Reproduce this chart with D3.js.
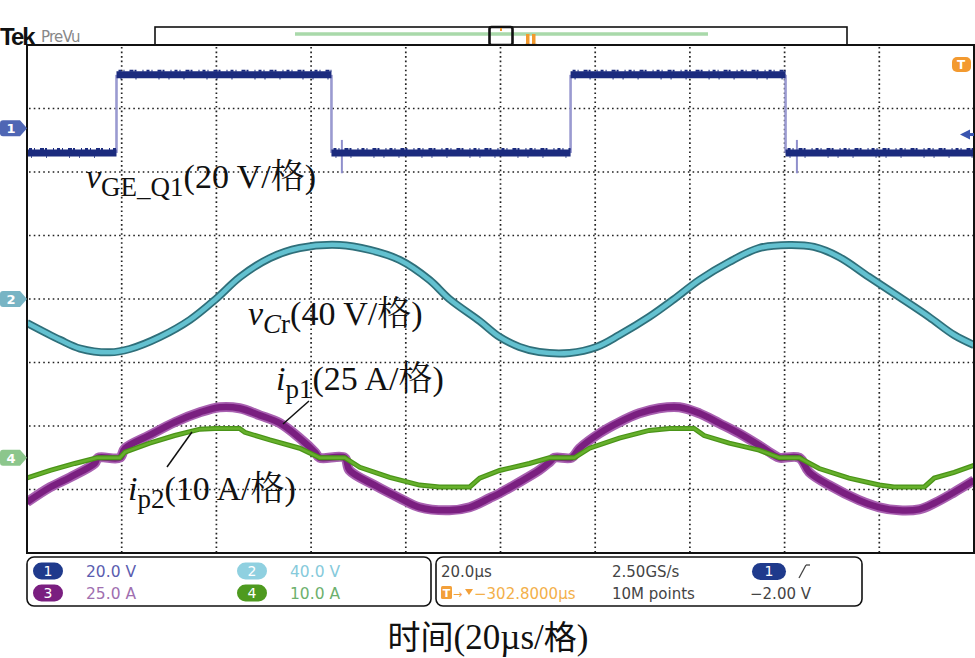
<!DOCTYPE html>
<html><head><meta charset="utf-8">
<script src="https://cdn.jsdelivr.net/npm/d3@7"></script>
<style>html,body{margin:0;padding:0;background:#fff;} svg{display:block}</style>
</head><body>
<svg id="c" width="975" height="658"></svg>
<script>
// ---------- DATA ----------
// time axis: 20 µs/div, 10 divisions
const timeDomain = [0, 200];
const divTicks = [1, 2, 3, 4, 5, 6, 7, 8, 9];          // vertical grid (x 20 µs)
const hTicks = [-3, -2, -1, 0, 1, 2, 3];                 // horizontal grid (divisions)

// channel settings: units per division and marker offset (divisions)
const chNames = ["1", "2", "3", "4"];
const chPerDiv = [20, 40, 25, 10];
const chOffset = [2.69, 0, -2.5, -2.5];

// CH1 v_GE_Q1 (V)
const vgeT = [0, 18.9, 18.9, 64.3, 64.3, 114.8, 114.8, 160.2, 160.2, 200];
const vgeV = [-7.8, -7.8, 16.8, 16.8, -7.8, -7.8, 16.8, 16.8, -7.8, -7.8];
const vgeSpikeT = [66.5, 162.6];
const vgeSpikeLo = [-14.2, -14.2];
const vgeSpikeHi = [-3.7, -3.7];

// CH2 v_Cr (V)
const vcrT = [0, 7.0, 11.2, 17.5, 21.7, 28.1, 34.4, 39.9, 45.0, 51.3, 57.6, 66.0, 72.4, 78.7, 85.0, 89.2, 95.6, 99.8, 104.0, 108.2, 114.6, 120.3, 125.1, 131.4, 136.7, 142.0, 148.3, 154.6, 161.0, 166.2, 171.5, 177.8, 184.2, 190.5, 195.8, 200];
const vcrV = [-15.1, -25.8, -31.2, -33.6, -31.5, -23.9, -13.2, 0, 13.9, 25.8, 32.1, 34.0, 30.9, 24.6, 12.0, 0, -13.9, -23.9, -30.2, -33.4, -34.0, -30.2, -22.7, -11.3, 0, 12.0, 23.3, 32.1, 34.0, 32.8, 26.5, 13.9, 1.3, -11.3, -22.7, -29.0];

// CH3 i_p1 (A)
const ip1T = [0, 4.9, 9.1, 14.3, 15.0, 19.6, 20.7, 25.9, 31.2, 36.5, 40.7, 44.9, 49.2, 53.4, 57.6, 60.8, 61.8, 67.1, 68.1, 73.4, 78.7, 82.9, 89.2, 93.5, 97.7, 99.8, 104.0, 108.2, 110.3, 111.4, 115.0, 116.7, 120.9, 125.1, 129.3, 133.5, 137.8, 142.0, 146.2, 150.4, 154.6, 157.8, 158.9, 163.1, 165.2, 169.4, 175.7, 180.0, 184.2, 188.4, 191.6, 195.8, 200];
const ip1A = [-17.5, -11.6, -7.7, -2.2, 0, 0, 3.7, 8.9, 14.0, 17.9, 19.9, 19.5, 16.7, 13.6, 7.7, 2.2, 0, 0, -4.9, -10.8, -15.9, -19.5, -20.7, -19.5, -15.9, -14.0, -9.6, -4.9, -1.8, 0, 0, 3.7, 9.6, 14.0, 17.5, 19.5, 19.9, 17.5, 13.6, 9.6, 4.9, 1.0, 0, 0, -5.7, -10.8, -16.7, -19.5, -20.7, -20.3, -17.9, -13.6, -8.9];

// CH4 i_p2 (A)
const ip2T = [0, 4.9, 10.1, 14.8, 19.6, 20.7, 25.9, 31.2, 36.5, 39.7, 44.9, 46.0, 51.3, 57.6, 61.8, 67.1, 70.3, 76.6, 82.9, 87.1, 93.5, 95.6, 99.8, 106.1, 110.3, 115.6, 118.8, 125.1, 131.4, 135.7, 140.9, 143.0, 148.3, 154.6, 158.9, 163.1, 167.3, 173.6, 180.0, 183.1, 189.5, 191.6, 195.8, 200];
const ip2A = [-3.2, -2.0, -0.9, 0, 0, 0.9, 2.3, 3.5, 4.5, 4.6, 4.6, 4.0, 2.8, 1.5, 0, 0, -1.5, -3.1, -4.3, -4.6, -4.6, -3.2, -2.0, -0.9, 0, 0, 1.5, 3.1, 4.3, 4.6, 4.6, 3.5, 2.3, 1.2, 0, 0, -1.7, -3.2, -4.3, -4.6, -4.6, -3.2, -2.3, -1.2];

// readout texts
const legendVals = ["20.0 V", "40.0 V", "25.0 A", "10.0 A"];
const horizTexts = ["20.0µs", "2.50GS/s", "10M points"];
const trigPos = "−302.8000µs";
const trigLevel = "−2.00 V";
const xLabel = ["时间", "(20µs/", "格", ")"];

// ---------- LAYOUT ----------
const svg = d3.select("#c");
const X0 = 27, X1 = 974, Y0 = 45, Y1 = 553;
const x = d3.scaleLinear().domain(timeDomain).range([X0, X1]);
const yDiv = d3.scaleLinear().domain([-4, 4]).range([Y1, Y0]);
const yCh = (ch) => (v) => yDiv(v / chPerDiv[ch] + chOffset[ch]);

const serif = "'Liberation Serif','Times New Roman','Noto Serif CJK SC','Noto Sans CJK SC',serif";
const tekFont = "'DejaVu Sans','Liberation Sans',sans-serif";

// ---------- top "Tek PreVu" header ----------
svg.append("text").attr("x", 0).attr("y", 45).attr("font-family", "'Liberation Sans',Arial,sans-serif")
  .attr("font-weight", "bold").attr("font-size", 24).attr("letter-spacing", -2).attr("fill", "#111").text("Tek");
svg.append("text").attr("x", 41).attr("y", 42).attr("font-family", tekFont)
  .attr("font-size", 15).attr("fill", "#888").attr("letter-spacing", -0.8).text("PreVu");

// record bar
svg.append("rect").attr("x", 155).attr("y", 27).attr("width", 692).attr("height", 18)
  .attr("fill", "#fff").attr("stroke", "#111").attr("stroke-width", 1.6);
svg.append("line").attr("x1", 295).attr("x2", 708).attr("y1", 34).attr("y2", 34)
  .attr("stroke", "#a9d9aa").attr("stroke-width", 3.5);
svg.append("rect").attr("x", 489.5).attr("y", 27).attr("width", 23).attr("height", 18).attr("rx", 2)
  .attr("fill", "none").attr("stroke", "#111").attr("stroke-width", 2.6);
svg.append("line").attr("x1", 501).attr("x2", 501).attr("y1", 28).attr("y2", 31).attr("stroke", "#f29a2e").attr("stroke-width", 2);
svg.append("rect").attr("x", 526).attr("y", 34).attr("width", 3.5).attr("height", 10).attr("fill", "#f29a2e");
svg.append("rect").attr("x", 532).attr("y", 34).attr("width", 3.5).attr("height", 10).attr("fill", "#f29a2e");
svg.append("line").attr("x1", 525).attr("x2", 537).attr("y1", 44.5).attr("y2", 44.5).attr("stroke", "#222").attr("stroke-width", 1.2);
svg.append("path").attr("d", "M495,46 L507,46 L501,53 Z").attr("fill", "#f29a2e");

// ---------- graticule ----------
svg.append("rect").attr("x", X0).attr("y", Y0).attr("width", X1 - X0).attr("height", Y1 - Y0).attr("fill", "#fff");
const grid = svg.append("g");
grid.selectAll(".vg").data(divTicks).join("line")
  .attr("x1", d => x(d * 20)).attr("x2", d => x(d * 20)).attr("y1", Y0 + 2).attr("y2", Y1)
  .attr("stroke", "#222").attr("stroke-width", 1.7).attr("stroke-dasharray", "1.6 2.94");
grid.selectAll(".hg").data(hTicks).join("line")
  .attr("x1", X0 + 2).attr("x2", X1).attr("y1", d => yDiv(d)).attr("y2", d => yDiv(d))
  .attr("stroke", "#222").attr("stroke-width", 1.7).attr("stroke-dasharray", "1.6 3.14");

svg.append("clipPath").attr("id", "clip").append("rect")
  .attr("x", X0 + 1).attr("y", Y0 + 1).attr("width", X1 - X0 - 2).attr("height", Y1 - Y0 - 2);
const plot = svg.append("g").attr("clip-path", "url(#clip)");

// ---------- CH2 ----------
const vcr = vcrT.map((t, i) => [t, vcrV[i]]);
const lineCr = d3.line().x(d => x(d[0])).y(d => yCh(1)(d[1])).curve(d3.curveCatmullRom.alpha(0.5));
plot.append("path").attr("d", lineCr(vcr)).attr("fill", "none").attr("stroke", "#2f6f7a").attr("stroke-width", 8);
plot.append("path").attr("d", lineCr(vcr)).attr("fill", "none").attr("stroke", "#63c1d0").attr("stroke-width", 4.5);

// ---------- CH1 ----------
const y1 = yCh(0);
const vge = vgeT.map((t, i) => [t, vgeV[i]]);
const segs = d3.pairs(vge);
plot.selectAll(".e").data(segs.filter(s => s[0][1] !== s[1][1])).join("line")
  .attr("x1", s => x(s[0][0])).attr("x2", s => x(s[1][0])).attr("y1", s => y1(s[0][1])).attr("y2", s => y1(s[1][1]))
  .attr("stroke", "#9a9ad0").attr("stroke-width", 2.6);
plot.selectAll(".sp").data(vgeSpikeT).join("line")
  .attr("x1", d => x(d)).attr("x2", d => x(d)).attr("y1", (d, i) => y1(vgeSpikeLo[i])).attr("y2", (d, i) => y1(vgeSpikeHi[i]))
  .attr("stroke", "#8f8fcc").attr("stroke-width", 2);
const flats = segs.filter(s => s[0][1] === s[1][1] && s[1][0] > s[0][0]);
plot.selectAll(".f").data(flats).join("line")
  .attr("x1", s => x(s[0][0])).attr("x2", s => x(s[1][0])).attr("y1", s => y1(s[0][1])).attr("y2", s => y1(s[1][1]))
  .attr("stroke", "#1b2b7e").attr("stroke-width", 7);
plot.selectAll(".n").data(flats).join("line")
  .attr("x1", s => x(s[0][0]) + 2).attr("x2", s => x(s[1][0])).attr("y1", s => y1(s[0][1]) - 4).attr("y2", s => y1(s[1][1]) - 4)
  .attr("stroke", "#1b2b7e").attr("stroke-width", 2).attr("stroke-dasharray", "3 2 1 5 4 1 2 6 1 3");
plot.selectAll(".n2").data(flats).join("line")
  .attr("x1", s => x(s[0][0]) + 4).attr("x2", s => x(s[1][0])).attr("y1", s => y1(s[0][1]) + 4).attr("y2", s => y1(s[1][1]) + 4)
  .attr("stroke", "#1b2b7e").attr("stroke-width", 1.5).attr("stroke-dasharray", "1 14 1 22 1 9");

// ---------- CH3 ----------
const ip1 = ip1T.map((t, i) => [t, ip1A[i]]);
const line3 = d3.line().x(d => x(d[0])).y(d => yCh(2)(d[1])).curve(d3.curveCatmullRom.alpha(0.5));
plot.append("path").attr("d", line3(ip1)).attr("fill", "none").attr("stroke", "#a860b0").attr("stroke-width", 10);
plot.append("path").attr("d", line3(ip1)).attr("fill", "none").attr("stroke", "#7a1f80").attr("stroke-width", 6.5);

// ---------- CH4 ----------
const ip2 = ip2T.map((t, i) => [t, ip2A[i]]);
const line4 = d3.line().x(d => x(d[0])).y(d => yCh(3)(d[1]));
plot.append("path").attr("d", line4(ip2)).attr("fill", "none").attr("stroke", "#4a9418").attr("stroke-width", 5);
plot.append("path").attr("d", line4(ip2)).attr("fill", "none").attr("stroke", "#66b02c").attr("stroke-width", 2.5);

// frame
svg.append("rect").attr("x", X0).attr("y", Y0).attr("width", X1 - X0).attr("height", Y1 - Y0)
  .attr("fill", "none").attr("stroke", "#111").attr("stroke-width", 2);

// ---------- left channel markers ----------
const markerCols = ["#4f66b4", "#78b4c4", null, "#8cc68c"];
[0, 1, 3].forEach(ch => {
  const cy = yDiv(chOffset[ch]);
  svg.append("path").attr("d", `M3,${cy - 8} L20,${cy - 8} L27,${cy} L20,${cy + 8} L3,${cy + 8} Q0,${cy + 8} 0,${cy + 5} L0,${cy - 5} Q0,${cy - 8} 3,${cy - 8} Z`)
    .attr("fill", markerCols[ch]);
  svg.append("text").attr("x", 11).attr("y", cy + 5).attr("text-anchor", "middle").attr("font-family", tekFont)
    .attr("font-size", 13).attr("font-weight", "bold").attr("fill", "#fff").text(chNames[ch]);
});

// right side: trigger indicator + level arrow
svg.append("rect").attr("x", 952).attr("y", 57).attr("width", 19).attr("height", 15).attr("rx", 5).attr("fill", "#f39a30");
svg.append("text").attr("x", 961).attr("y", 69).attr("text-anchor", "middle").attr("font-family", tekFont)
  .attr("font-size", 12).attr("font-weight", "bold").attr("fill", "#fff").text("T");
svg.append("path").attr("d", `M960,${y1(-2)} L970,${y1(-2) - 5} L970,${y1(-2) + 5} Z`).attr("fill", "#3a55b0");
svg.append("rect").attr("x", 969).attr("y", y1(-2) - 1.5).attr("width", 5).attr("height", 3).attr("fill", "#3a55b0");

// ---------- annotations ----------
function label(xp, yb, main, sub, rest, subItalicFirst) {
  const t = svg.append("text").attr("x", xp).attr("y", yb).attr("font-family", serif).attr("font-size", 34).attr("fill", "#111");
  t.append("tspan").attr("font-style", "italic").text(main);
  if (subItalicFirst) {
    t.append("tspan").attr("font-size", 27).attr("dy", 8).attr("font-style", "italic").text(sub[0]);
    t.append("tspan").attr("font-size", 27).text(sub.slice(1));
  } else {
    t.append("tspan").attr("font-size", 27).attr("dy", 8).text(sub);
  }
  t.append("tspan").attr("dy", -8).text(rest);
}
label(86, 188, "v", "GE_Q1", "(20 V/格)", false);
label(248, 325, "v", "Cr", "(40 V/格)", true);
label(276, 390, "i", "p1", "(25 A/格)", false);
label(128, 500, "i", "p2", "(10 A/格)", false);
svg.append("line").attr("x1", 283).attr("y1", 424).attr("x2", 309).attr("y2", 401).attr("stroke", "#111").attr("stroke-width", 1.5);
svg.append("line").attr("x1", 167).attr("y1", 467).attr("x2", 192).attr("y2", 432).attr("stroke", "#111").attr("stroke-width", 1.5);

// ---------- readout panels ----------
svg.append("rect").attr("x", 27).attr("y", 557).attr("width", 404).attr("height", 49).attr("rx", 7)
  .attr("fill", "#fff").attr("stroke", "#111").attr("stroke-width", 1.6);
svg.append("rect").attr("x", 436).attr("y", 557).attr("width", 426).attr("height", 49).attr("rx", 7)
  .attr("fill", "#fff").attr("stroke", "#111").attr("stroke-width", 1.6);

const badgeCols = ["#1f3a8c", "#8fd0e0", "#7a1e80", "#4e9a1f"];
const textCols = ["#5b5db0", "#86cadb", "#a06fb0", "#6db06d"];
const badgeX = [48, 252, 48, 252];
const badgeY = [571, 571, 593, 593];
chNames.forEach((n, i) => {
  svg.append("rect").attr("x", badgeX[i] - 15).attr("y", badgeY[i] - 8.5).attr("width", 30).attr("height", 17).attr("rx", 8.5)
    .attr("fill", badgeCols[i]);
  svg.append("text").attr("x", badgeX[i]).attr("y", badgeY[i] + 5).attr("text-anchor", "middle").attr("font-family", tekFont)
    .attr("font-size", 14).attr("fill", "#fff").text(n);
  svg.append("text").attr("x", badgeX[i] + 38).attr("y", badgeY[i] + 6).attr("font-family", tekFont)
    .attr("font-size", 15.5).attr("fill", textCols[i]).text(legendVals[i]);
});

svg.append("text").attr("x", 441).attr("y", 577).attr("font-family", tekFont).attr("font-size", 15).attr("fill", "#444").text(horizTexts[0]);
svg.append("text").attr("x", 612).attr("y", 577).attr("font-family", tekFont).attr("font-size", 15).attr("fill", "#444").text(horizTexts[1]);
svg.append("text").attr("x", 612).attr("y", 599).attr("font-family", tekFont).attr("font-size", 15).attr("fill", "#444").text(horizTexts[2]);
// trigger position
svg.append("rect").attr("x", 441).attr("y", 586).attr("width", 11).attr("height", 13).attr("rx", 1.5).attr("fill", "#f3a03a");
svg.append("text").attr("x", 446.5).attr("y", 597).attr("text-anchor", "middle").attr("font-family", tekFont)
  .attr("font-size", 11).attr("font-weight", "bold").attr("fill", "#fff").text("T");
svg.append("text").attr("x", 453).attr("y", 598).attr("font-family", tekFont).attr("font-size", 11).attr("fill", "#f3a03a").text("→");
svg.append("path").attr("d", "M465,589 L473,589 L469,595 Z").attr("fill", "#f3a03a");
svg.append("text").attr("x", 474).attr("y", 599).attr("font-family", tekFont).attr("font-size", 15).attr("fill", "#f3b04a").text(trigPos);
// trigger source/level
svg.append("rect").attr("x", 752).attr("y", 563).attr("width", 34).attr("height", 17).attr("rx", 8.5).attr("fill", "#1f3a8c");
svg.append("text").attr("x", 769).attr("y", 576).attr("text-anchor", "middle").attr("font-family", tekFont)
  .attr("font-size", 14).attr("fill", "#fff").text("1");
svg.append("line").attr("x1", 799).attr("y1", 578).attr("x2", 806).attr("y2", 565).attr("stroke", "#444").attr("stroke-width", 1.3);
svg.append("line").attr("x1", 806).attr("y1", 565).attr("x2", 810).attr("y2", 565).attr("stroke", "#444").attr("stroke-width", 1.3);
svg.append("text").attr("x", 750).attr("y", 599).attr("font-family", tekFont).attr("font-size", 15).attr("fill", "#444").text(trigLevel);

// ---------- x-axis caption ----------
const cap = svg.append("text").attr("x", 488).attr("y", 649).attr("text-anchor", "middle")
  .attr("font-family", serif).attr("font-size", 35).attr("fill", "#111");
cap.append("tspan").attr("font-family", "'Noto Sans CJK SC',sans-serif").attr("font-size", 33).text(xLabel[0]);
cap.append("tspan").text(xLabel[1]);
cap.append("tspan").attr("font-family", "'Noto Sans CJK SC',sans-serif").attr("font-size", 33).text(xLabel[2]);
cap.append("tspan").text(xLabel[3]);
</script></body></html>
